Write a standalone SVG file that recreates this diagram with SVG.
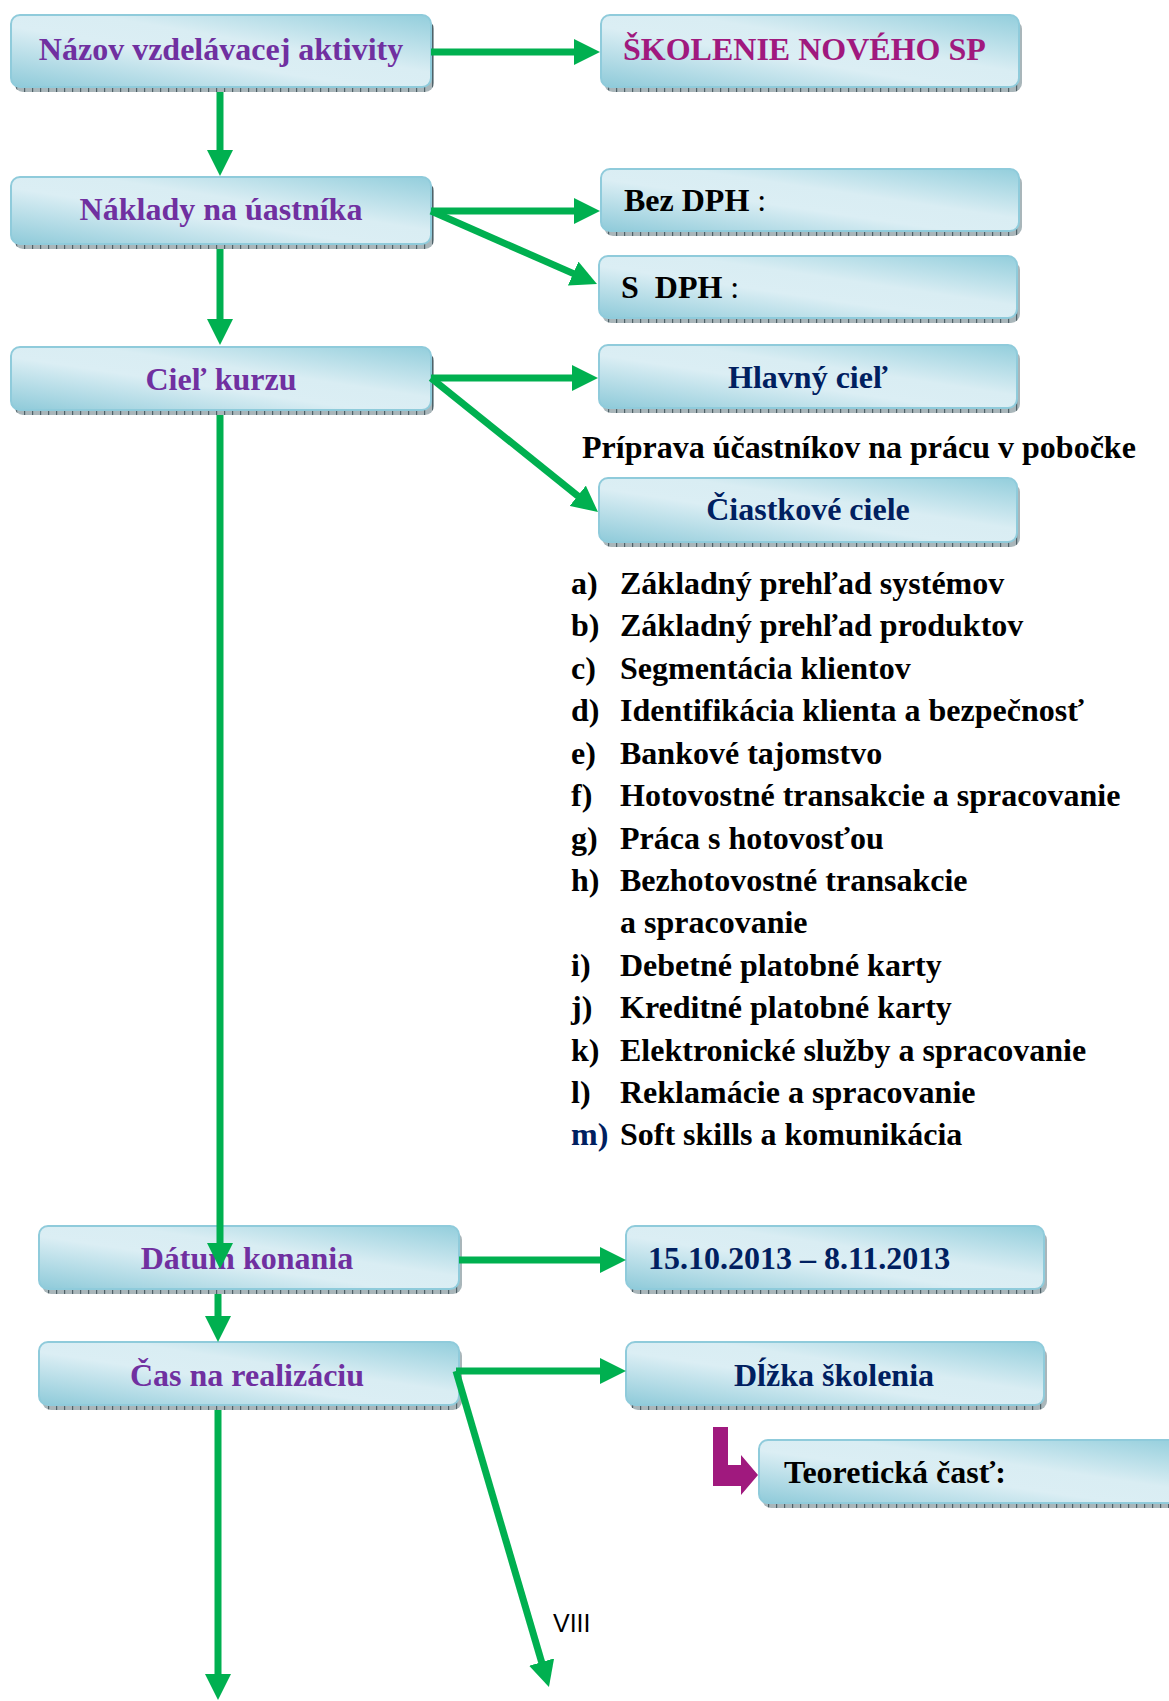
<svg xmlns="http://www.w3.org/2000/svg" width="1169" height="1701" viewBox="0 0 1169 1701">
  <style>
    .face { fill: url(#boxfill); stroke: #8fcbdb; stroke-width: 2; }
    .base { fill: url(#hatch); }
    .t { font-family: "Liberation Serif", "Times New Roman", serif; font-weight: bold; font-size: 32px; }
    .thin { font-weight: normal; }
    .purple { fill: #7030a0; }
    .magenta { fill: #a0197e; }
    .navy { fill: #002060; }
    .black { fill: #000000; }
    .mid { text-anchor: middle; }
    .link { stroke: #00b050; stroke-width: 7; fill: none; marker-end: url(#head); }
    .page { font-family: "Liberation Sans", Arial, sans-serif; font-size: 25px; fill: #000000; }
  </style>
  <defs>
    <linearGradient id="boxfill" x1="0" y1="1" x2="1" y2="0">
      <stop offset="0" stop-color="#8ecad9"/>
      <stop offset="0.42" stop-color="#dbeef4"/>
      <stop offset="0.6" stop-color="#d9edf3"/>
      <stop offset="1" stop-color="#93cedc"/>
    </linearGradient>
    <pattern id="hatch" patternUnits="userSpaceOnUse" width="8" height="8">
      <rect width="8" height="8" fill="#a9b6ba"/>
      <rect x="0" width="1.2" height="8" fill="#4f6168"/>
    </pattern>
    <marker id="head" markerUnits="userSpaceOnUse" viewBox="0 0 26 26" markerWidth="26" markerHeight="26" refX="1" refY="13" orient="auto">
      <path d="M0,0 L26,13 L0,26 z" fill="#00b050"/>
    </marker>
  </defs>

  <!-- left column -->
  <g id="nazov">
    <rect class="base" x="14" y="20" width="420" height="72" rx="9"/>
    <rect class="face" x="11" y="15" width="420" height="72" rx="9"/>
    <text class="t purple mid" x="221" y="60">Názov vzdelávacej aktivity</text>
  </g>
  <g id="naklady">
    <rect class="base" x="14" y="182" width="420" height="67" rx="9"/>
    <rect class="face" x="11" y="177" width="420" height="67" rx="9"/>
    <text class="t purple mid" x="221" y="220">Náklady na úastníka</text>
  </g>
  <g id="ciel-kurzu">
    <rect class="base" x="14" y="352" width="420" height="63" rx="9"/>
    <rect class="face" x="11" y="347" width="420" height="63" rx="9"/>
    <text class="t purple mid" x="221" y="390">Cieľ kurzu</text>
  </g>
  <g id="datum">
    <rect class="base" x="42" y="1231" width="420" height="63" rx="9"/>
    <rect class="face" x="39" y="1226" width="420" height="63" rx="9"/>
    <text class="t purple mid" x="247" y="1269">Dátum konania</text>
  </g>
  <g id="cas">
    <rect class="base" x="42" y="1347" width="420" height="63" rx="9"/>
    <rect class="face" x="39" y="1342" width="420" height="63" rx="9"/>
    <text class="t purple mid" x="247" y="1386">Čas na realizáciu</text>
  </g>

  <!-- right column -->
  <g id="skolenie">
    <rect class="base" x="604" y="20" width="418" height="72" rx="9"/>
    <rect class="face" x="601" y="15" width="418" height="72" rx="9"/>
    <text class="t magenta" x="623" y="60">ŠKOLENIE NOVÉHO SP</text>
  </g>
  <g id="bez-dph">
    <rect class="base" x="604" y="174" width="418" height="62" rx="9"/>
    <rect class="face" x="601" y="169" width="418" height="62" rx="9"/>
    <text class="t black" x="624" y="211" xml:space="preserve">Bez DPH <tspan class="thin">:</tspan></text>
  </g>
  <g id="s-dph">
    <rect class="base" x="602" y="261" width="418" height="62" rx="9"/>
    <rect class="face" x="599" y="256" width="418" height="62" rx="9"/>
    <text class="t black" x="621" y="298" xml:space="preserve">S  DPH <tspan class="thin">:</tspan></text>
  </g>
  <g id="hlavny-ciel">
    <rect class="base" x="602" y="350" width="418" height="63" rx="9"/>
    <rect class="face" x="599" y="345" width="418" height="63" rx="9"/>
    <text class="t navy mid" x="808" y="388">Hlavný cieľ</text>
  </g>
  <g id="priprava">
    <text class="t black" x="582" y="458">Príprava účastníkov na prácu v pobočke</text>
  </g>
  <g id="ciastkove-ciele">
    <rect class="base" x="602" y="483" width="418" height="64" rx="9"/>
    <rect class="face" x="599" y="478" width="418" height="64" rx="9"/>
    <text class="t navy mid" x="808" y="520">Čiastkové ciele</text>
  </g>
  <g id="zoznam-cielov" class="t black">
    <text x="571" y="594">a)</text><text x="620" y="594">Základný prehľad systémov</text>
    <text x="571" y="636">b)</text><text x="620" y="636">Základný prehľad produktov</text>
    <text x="571" y="679">c)</text><text x="620" y="679">Segmentácia klientov</text>
    <text x="571" y="721">d)</text><text x="620" y="721">Identifikácia klienta a bezpečnosť</text>
    <text x="571" y="764">e)</text><text x="620" y="764">Bankové tajomstvo</text>
    <text x="571" y="806">f)</text><text x="620" y="806">Hotovostné transakcie a spracovanie</text>
    <text x="571" y="849">g)</text><text x="620" y="849">Práca s hotovosťou</text>
    <text x="571" y="891">h)</text><text x="620" y="891">Bezhotovostné transakcie</text>
    <text x="620" y="933">a spracovanie</text>
    <text x="571" y="976">i)</text><text x="620" y="976">Debetné platobné karty</text>
    <text x="571" y="1018">j)</text><text x="620" y="1018">Kreditné platobné karty</text>
    <text x="571" y="1061">k)</text><text x="620" y="1061">Elektronické služby a spracovanie</text>
    <text x="571" y="1103">l)</text><text x="620" y="1103">Reklamácie a spracovanie</text>
    <text x="571" y="1145" class="navy">m)</text><text x="620" y="1145">Soft skills a komunikácia</text>
  </g>
  <g id="termin">
    <rect class="base" x="629" y="1231" width="418" height="63" rx="9"/>
    <rect class="face" x="626" y="1226" width="418" height="63" rx="9"/>
    <text class="t navy" x="648" y="1269">15.10.2013 – 8.11.2013</text>
  </g>
  <g id="dlzka">
    <rect class="base" x="629" y="1347" width="418" height="63" rx="9"/>
    <rect class="face" x="626" y="1342" width="418" height="63" rx="9"/>
    <text class="t navy mid" x="834" y="1386">Dĺžka školenia</text>
  </g>
  <g id="teoreticka">
    <path d="M713,1427 H728 V1465 H741 V1455 L758,1475 L741,1495 V1486 H713 Z" fill="#a0197e"/>
    <rect class="base" x="762" y="1445" width="430" height="63" rx="9"/>
    <rect class="face" x="759" y="1440" width="430" height="63" rx="9"/>
    <text class="t black" x="784" y="1483">Teoretická časť:</text>
  </g>
  <g id="strana">
    <text class="page" x="553" y="1632">VIII</text>
  </g>

  <!-- connectors, drawn over the boxes -->
  <g id="connectors">
    <line class="link" x1="431" y1="52" x2="575" y2="52"/>
    <line class="link" x1="220" y1="92" x2="220" y2="151"/>
    <line class="link" x1="431" y1="211" x2="575" y2="211"/>
    <line class="link" x1="431" y1="211" x2="574.1" y2="273.9"/>
    <line class="link" x1="220" y1="249" x2="220" y2="320"/>
    <line class="link" x1="431" y1="378" x2="573" y2="378"/>
    <line class="link" x1="431" y1="378" x2="578.5" y2="496.4"/>
    <line class="link" x1="220" y1="415" x2="220" y2="1244"/>
    <line class="link" x1="459" y1="1260" x2="601" y2="1260"/>
    <line class="link" x1="218" y1="1294" x2="218" y2="1317"/>
    <line class="link" x1="456" y1="1371" x2="601" y2="1371"/>
    <line class="link" x1="456" y1="1371" x2="541.9" y2="1663"/>
    <line class="link" x1="218" y1="1410" x2="218" y2="1675"/>
  </g>
</svg>
